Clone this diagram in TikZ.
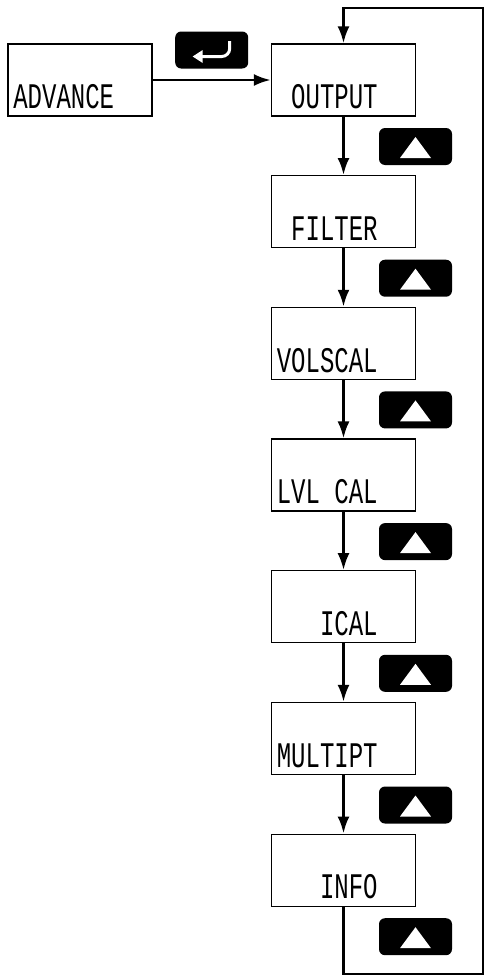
\documentclass[tikz,border=0pt]{standalone}
\usepackage{fontspec}
\newfontfamily\lcdfont{Liberation Mono}
\usetikzlibrary{arrows.meta, positioning}
\newcommand{\lcdtext}[1]{\scalebox{1}[1.5]{#1}}
\tikzstyle{display} = [
  rectangle,
  minimum width=144pt,
  minimum height=72pt,
  inner sep=0pt,
  draw=black,
  line width=1.3pt
]
\tikzstyle{lcd} = [
  anchor=base east,
  inner sep=0pt,
  font=\fontsize{24}{24}\selectfont\lcdfont
]
\tikzstyle{upkey} = [
  rectangle,
  rounded corners=6pt,
  minimum width=73pt,
  minimum height=37pt,
  fill=black,
  path picture={\fill[white, sharp corners] ([xshift=-15.5pt,yshift=-11.5pt]path picture bounding box.center)
    -- ++(31pt,0pt) -- ++(-15.5pt,21pt) -- cycle;}
]
\tikzstyle{enterkey} = [
  rectangle,
  rounded corners=6pt,
  minimum width=73pt,
  minimum height=37pt,
  fill=black,
  path picture={
    \draw[white, line width=3pt, rounded corners=8pt]
      ([xshift=18pt,yshift=9pt]path picture bounding box.center)
      -- ++(0pt,-15.5pt) -- ++(-28pt,0pt);
    \fill[white, sharp corners] ([xshift=-19pt,yshift=-6.5pt]path picture bounding box.center)
      -- ++(10pt,6.5pt) -- ++(0pt,-13pt) -- cycle;}
]
\tikzstyle{arrow} = [line width=2.8pt, -{Latex[length=17pt,width=12pt]}]

\begin{document}
\begin{tikzpicture}[x=1pt, y=1pt, node distance=131.7pt]
    \useasboundingbox (0,0) rectangle (487,-977);

    \node (advance) [display] at (80,-80) {};
    \node (output) [display, right of=advance, xshift=131.8pt] {};
    \node (filter) [display, below of=output] {};
    \node (volscal) [display, below of=filter] {};
    \node (lvlcal) [display, below of=volscal] {};
    \node (ical) [display, below of=lvlcal] {};
    \node (multipt) [display, below of=ical] {};
    \node (info) [display, below of=multipt] {};

    \node (advance-text) [lcd] at ([xshift=107pt,yshift=8pt]advance.south west) {\lcdtext{ADVANCE}};
    \node (output-text) [lcd] at ([xshift=107pt,yshift=8pt]output.south west) {\lcdtext{OUTPUT}};
    \node (filter-text) [lcd] at ([xshift=107pt,yshift=8pt]filter.south west) {\lcdtext{FILTER}};
    \node (volscal-text) [lcd] at ([xshift=107pt,yshift=8pt]volscal.south west) {\lcdtext{VOLSCAL}};
    \node (lvlcal-text) [lcd] at ([xshift=107pt,yshift=8pt]lvlcal.south west) {\lcdtext{LVL CAL}};
    \node (ical-text) [lcd] at ([xshift=107pt,yshift=8pt]ical.south west) {\lcdtext{ICAL}};
    \node (multipt-text) [lcd] at ([xshift=107pt,yshift=8pt]multipt.south west) {\lcdtext{MULTIPT}};
    \node (info-text) [lcd] at ([xshift=107pt,yshift=8pt]info.south west) {\lcdtext{INFO}};

    \node (enter-key) [enterkey, right of=advance, yshift=30pt] {};
    \node (up-output) [upkey] at ([xshift=72pt,yshift=-66.5pt]output.center) {};
    \node (up-filter) [upkey] at ([xshift=72pt,yshift=-66.5pt]filter.center) {};
    \node (up-volscal) [upkey] at ([xshift=72pt,yshift=-66.5pt]volscal.center) {};
    \node (up-lvlcal) [upkey] at ([xshift=72pt,yshift=-66.5pt]lvlcal.center) {};
    \node (up-ical) [upkey] at ([xshift=72pt,yshift=-66.5pt]ical.center) {};
    \node (up-multipt) [upkey] at ([xshift=72pt,yshift=-66.5pt]multipt.center) {};
    \node (up-info) [upkey] at ([xshift=72pt,yshift=-66.5pt]info.center) {};

    \coordinate (loop-bottom) at (483,-974);
    \coordinate (loop-top) at (483,-8);

    \draw [arrow] (advance) -- (output);
    \draw [arrow] (output) -- (filter);
    \draw [arrow] (filter) -- (volscal);
    \draw [arrow] (volscal) -- (lvlcal);
    \draw [arrow] (lvlcal) -- (ical);
    \draw [arrow] (ical) -- (multipt);
    \draw [arrow] (multipt) -- (info);
    \draw [arrow] (info.south) |- (loop-bottom) -- (loop-top) -| (output.north);
\end{tikzpicture}
\end{document}
